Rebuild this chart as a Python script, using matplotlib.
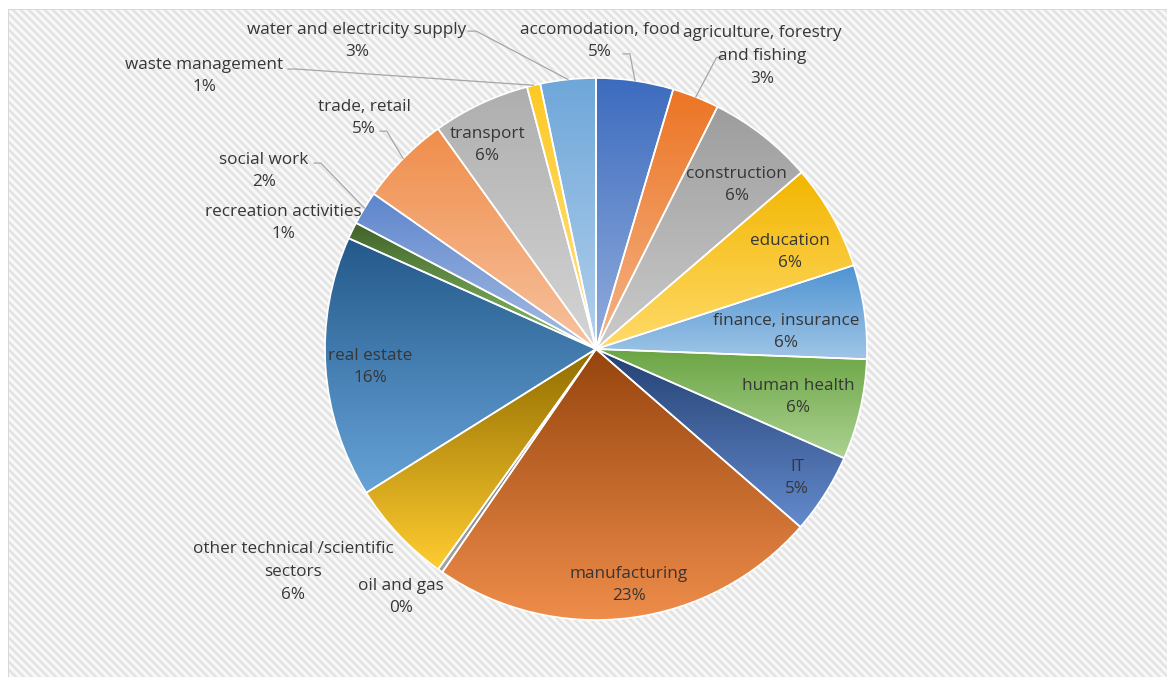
import colorsys
import numpy as np
import matplotlib
matplotlib.use('Agg')
from matplotlib import pyplot as plt
from matplotlib.colors import LinearSegmentedColormap, to_rgb

# slices, clockwise from 12 o'clock
sectors = ['accomodation, food', 'agriculture, forestry\nand fishing', 'construction', 'education',
           'finance, insurance', 'human health', 'IT', 'manufacturing', 'oil and gas',
           'other technical /scientific\nsectors', 'real estate', 'recreation activities',
           'social work', 'trade, retail', 'transport', 'waste management',
           'water and electricity supply']
shares = [4.6, 2.8, 6.3, 6.3, 5.6, 6.0, 4.8, 23.2, 0.3, 6.2, 15.6, 1.0, 2.0, 5.4, 5.8, 0.8, 3.3]
slice_colors = ['#4472C4', '#ED7D31', '#A5A5A5', '#FFC000', '#5B9BD5', '#70AD47', '#264478',
                '#9E480E', '#636363', '#997300', '#255E91', '#43682B', '#698ED0', '#F1975A',
                '#B7B7B7', '#FFCD33', '#7CAFDD']

# label centres and leader starts, in pie-radius units from the pie centre
label_xy = [(0.015, 1.137), (0.613, 1.081), (0.520, 0.605), (0.716, 0.358), (0.701, 0.063),
            (0.745, -0.177), (0.742, -0.476), (0.122, -0.871), (-0.720, -0.915), (-1.118, -0.823),
            (-0.834, -0.066), (-1.155, 0.465), (-1.225, 0.657), (-0.856, 0.852), (-0.402, 0.753),
            (-1.446, 1.007), (-0.882, 1.137)]
leaders = {0: ((0.100, 1.089), 0.025), 1: ((0.465, 1.076), -0.02), 16: ((-0.472, 1.173), 0.03),
           15: ((-1.136, 1.033), 0.03), 13: ((-0.797, 0.804), 0.025), 12: ((-1.040, 0.686), 0.025)}


def shade(c, f):
    h, l, s = colorsys.rgb_to_hls(*to_rgb(c))
    if f < 0:
        l = l * (1 + f)
    else:
        l = l + f * (1 - l)
    return colorsys.hls_to_rgb(h, min(l, 1), s)


W, H = 1167, 677
cx, cy, R = 596, 349, 271
fig = plt.figure(figsize=(W / 100, H / 100), dpi=100)
fig.patch.set_facecolor('white')

# striped chart area background, on its own axes underneath
bx, by = 8, 9
yy, xx = np.mgrid[0:H - by, 0:W - bx]
v = 0.935 + 0.05 * np.cos(2 * np.pi * (xx - yy) / 8.0)
bg = np.dstack([v, v, v])
bg[:, 0] = 0.85
bg[0, :] = 0.85
bg_ax = fig.add_axes([0, 0, 1, 1], zorder=0)
bg_ax.imshow(bg, extent=(bx, W, 0, H - by), origin='upper', interpolation='nearest', aspect='auto')
bg_ax.set_xlim(0, W)
bg_ax.set_ylim(0, H)
bg_ax.axis('off')

ax = fig.add_axes([0, 0, 1, 1], zorder=1)
wedges, _ = ax.pie(shares, startangle=90, counterclock=False, radius=1,
                   wedgeprops=dict(edgecolor='white', linewidth=1.2))

grad = np.linspace(0, 1, 256).reshape(-1, 1)
for w, c in zip(wedges, slice_colors):
    ext = w.get_path().get_extents()
    cmap = LinearSegmentedColormap.from_list('g', [shade(c, -0.05), shade(c, 0.42)])
    im = ax.imshow(grad, cmap=cmap, extent=(ext.x0, ext.x1, ext.y0, ext.y1), origin='upper',
                   aspect='auto', interpolation='bilinear', zorder=1)
    im.set_clip_path(w)
    w.set_facecolor('none')
    w.set_zorder(2)

total = sum(shares)
for i, (name, val) in enumerate(zip(sectors, shares)):
    lx, ly = label_xy[i]
    ax.text(lx, ly, '%s\n%d%%' % (name, round(val / total * 100)), ha='center', va='center',
            fontsize=12.3, color='#363636', family='Open Sans', fontweight=500,
            linespacing=1.55, zorder=4)

for i, (start, knee) in leaders.items():
    w = wedges[i]
    mid = np.deg2rad((w.theta1 + w.theta2) / 2)
    ex, ey = np.cos(mid), np.sin(mid)
    sx, sy = start
    ax.plot([sx, sx + knee, ex], [sy, sy, ey], color='#A6A6A6', lw=0.9, zorder=3)

ax.set_xlim(-cx / R, (W - cx) / R)
ax.set_ylim(-(H - cy) / R, cy / R)
ax.axis('off')

fig.savefig('out.png', dpi=100)
